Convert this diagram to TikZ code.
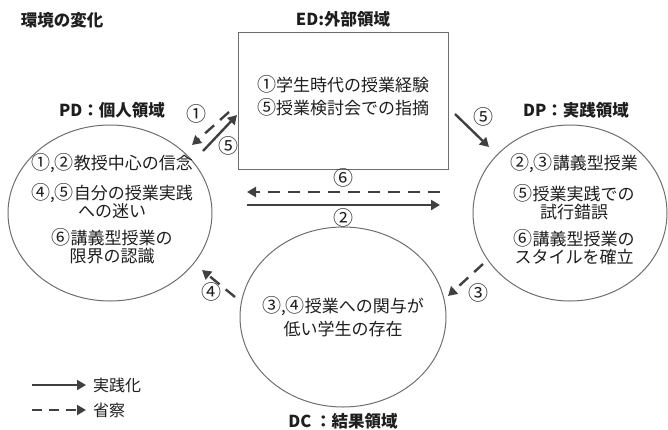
\documentclass[tikz,border=0pt]{standalone}
\usepackage{fontspec}
\setmainfont{Noto Sans CJK JP}
\usetikzlibrary{arrows.meta,shapes.geometric}
\definecolor{arrowgray}{HTML}{404040}
\definecolor{linegray}{HTML}{6E6E6E}
\definecolor{txt}{HTML}{1E1E1E}
\newcommand\cnum[1]{{\fontsize{19}{18}\selectfont #1}}
\tikzset{
  region/.style={ellipse,draw=linegray,line width=1pt,inner sep=0pt},
  body/.style={text=txt,align=center,inner sep=0pt,font=\fontsize{17}{18}\selectfont},
  head/.style={text=txt,inner sep=0pt,font=\bfseries\fontsize{16.5}{18}\selectfont},
  num/.style={text=txt,inner sep=0pt,font=\fontsize{20}{18}\selectfont},
  act/.style={draw=arrowgray,line width=2.4pt,-{Triangle[length=9pt,width=10pt]}},
  refl/.style={act,dash pattern=on 12pt off 8pt},
}
\begin{document}
\begin{tikzpicture}[x=1pt,y=-1pt]
\useasboundingbox (0,0) rectangle (668,429);

% headings
\node[head] (env) at (62,20) {環境の変化};
\node[head] (edl) at (343,19) {ED:外部領域};
\node[head] (pdl) at (112,110) {PD：個人領域};
\node[head] (dpl) at (576,110) {DP：実践領域};
\node[head] (dcl) at (343,421) {DC ：結果領域};

% regions
\node[draw=linegray,line width=1pt,minimum width=210pt,minimum height=137pt,inner sep=0pt] (ed) at (343,100.5) {};
\node[region,minimum width=204pt,minimum height=176pt] (pd) at (110,213) {};
\node[region,minimum width=194pt,minimum height=176pt] (dp) at (570,213) {};
\node[region,minimum width=206pt,minimum height=180pt] (dc) at (343,317) {};

% texts
\node[body] (edt) at (343,95.5) {\cnum{①}学生時代の授業経験\\[5pt]\cnum{⑤}授業検討会での指摘};
\node[body] (pdt) at (112,209) {\cnum{①},\cnum{②}教授中心の信念\\[10pt]\cnum{④},\cnum{⑤}自分の授業実践\\への迷い\\[9pt]\cnum{⑥}講義型授業の\\限界の認識};
\node[body] (dpt) at (574,209) {\cnum{②},\cnum{③}講義型授業\\[10pt]\cnum{⑤}授業実践での\\試行錯誤\\[9pt]\cnum{⑥}講義型授業の\\スタイルを確立};
\node[body] (dct) at (343,316.5) {\cnum{③},\cnum{④}授業への関与が\\[5pt]低い学生の存在};

% arrow end points
\coordinate (a1s) at (229,112);
\coordinate (a1e) at (192,145);
\coordinate (a5s) at (203,151);
\coordinate (a5e) at (237,115);
\coordinate (b5s) at (455,114);
\coordinate (b5e) at (489,147);
\coordinate (c6s) at (440,192);
\coordinate (c6e) at (247,192);
\coordinate (c2s) at (247,205);
\coordinate (c2e) at (440,205);
\coordinate (d3s) at (483,264);
\coordinate (d3e) at (448,296);
\coordinate (e4s) at (235,297);
\coordinate (e4e) at (202,270);

\draw[refl] (a1s) -- (a1e);
\draw[act] (a5s) -- (a5e);
\draw[act] (b5s) -- (b5e);
\draw[refl] (c6s) -- (c6e);
\draw[act] (c2s) -- (c2e);
\draw[refl] (d3s) -- (d3e);
\draw[refl] (e4s) -- (e4e);

% arrow numbers
\node[num] (n1) at (196,114) {①};
\node[num] (n5a) at (228,146) {⑤};
\node[num] (n5b) at (483,117) {⑤};
\node[num] (n6) at (343,178) {⑥};
\node[num] (n2) at (343,218) {②};
\node[num] (n3) at (478,293) {③};
\node[num] (n4) at (211,292) {④};

% legend
\coordinate (l1s) at (32,385);
\coordinate (l1e) at (86,385);
\coordinate (l2s) at (32,410);
\coordinate (l2e) at (86,410);
\draw[act,line width=2pt] (l1s) -- (l1e);
\draw[refl,line width=2pt,dash pattern=on 10pt off 7pt] (l2s) -- (l2e);
\node[num,anchor=west,font=\fontsize{16}{18}\selectfont] (lt1) at (93,385) {実践化};
\node[num,anchor=west,font=\fontsize{16}{18}\selectfont] (lt2) at (93,410) {省察};
\end{tikzpicture}
\end{document}
